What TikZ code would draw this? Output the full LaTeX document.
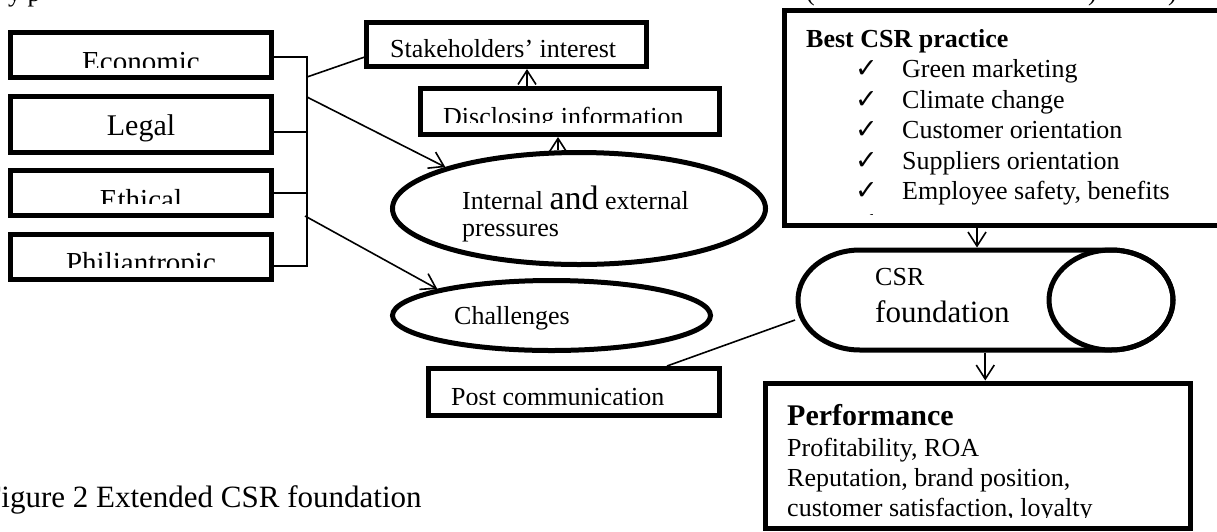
\documentclass[tikz,border=0pt]{standalone}
\usepackage{fontspec}
\setmainfont{Liberation Serif}
\newfontfamily\checkfont{DejaVu Sans}
\usetikzlibrary{shapes.geometric,arrows.meta}

\tikzset{
  box/.style={draw, rectangle, line width=5pt, inner sep=0pt},
  ell/.style={draw, ellipse, line width=5pt, inner sep=0pt},
  txt/.style={font=\fontsize{#1}{#1}\selectfont, inner sep=0pt, anchor=base west},
  btxt/.style={font=\fontsize{#1}{#1}\selectfont\bfseries, inner sep=0pt, anchor=base west},
  chk/.style={font=\checkfont\fontsize{27}{27}\selectfont, inner sep=0pt, anchor=base west},
  conn/.style={line width=1.6pt},
  arr/.style={conn, -{Straight Barb[length=14pt,width=18pt]}},
  thick shape/.style={line width=5pt}
}

\begin{document}
\begin{tikzpicture}[x=1pt,y=-1pt]
\useasboundingbox (0,0) rectangle (1217,531);
\clip (0,0) rectangle (1217,531);

% lines of surrounding text cut by the frame
\node[txt=26] (frag1) at (8,1) {y p};
\node[txt=26] (frag2) at (806,0) {(};
\node[txt=26] (frag3) at (1088,0) {)};
\node[txt=26] (frag4) at (1168,0) {)};

% four responsibility boxes
\node[box, minimum width=261pt, minimum height=45.5pt] (eco)   at (141,54.75) {};
\node[box, minimum width=261pt, minimum height=56pt]   (legal) at (141,124.5) {};
\node[box, minimum width=261pt, minimum height=45pt]   (eth)   at (141,193) {};
\node[box, minimum width=261pt, minimum height=45pt]   (phil)  at (141,257) {};
\begin{scope}
  \clip (13,30) rectangle (269,67);
  \node[txt=29, anchor=base] (ecot) at (141,71) {Economic};
\end{scope}
\node[txt=30, anchor=base] (legalt) at (141,135) {Legal};
\begin{scope}
  \clip (13,170) rectangle (269,203);
  \node[txt=29, anchor=base] (etht) at (141,209) {Ethical};
\end{scope}
\begin{scope}
  \clip (13,234) rectangle (269,267);
  \node[txt=29, anchor=base] (philt) at (141,272) {Philiantropic};
\end{scope}

% bracket joining the four boxes
\coordinate (bt) at (307,57);
\coordinate (bb) at (307,266);
\coordinate (b2) at (307,132);
\coordinate (b3) at (307,193);
\draw[conn] (eco.east |- bt) -- (bt) -- (bb) -- (phil.east |- bb);
\draw[conn] (legal.east |- b2) -- (b2);
\draw[conn] (eth.east |- b3) -- (b3);
\coordinate (j1) at (307,77);
\coordinate (j2) at (307,97);
\coordinate (j3) at (305,216);

% stakeholders and disclosure
\node[box, minimum width=280pt, minimum height=44.5pt]   (stake) at (506.5,44.25) {};
\begin{scope}
  \clip (369,25) rectangle (644,57);
  \node[txt=26] (staket) at (390,57) {Stakeholders’ interest};
\end{scope}
\node[box, minimum width=299.5pt, minimum height=46.5pt] (disc) at (569.75,111.25) {};
\begin{scope}
  \clip (423,91) rectangle (717,122);
  \node[txt=26] (disct) at (443,125) {Disclosing information};
\end{scope}

% pressures and challenges
\node[ell, minimum width=373pt, minimum height=112pt] (ipress) at (579,208.5) {};
\node[txt=26] (ipt1) at (462,209) {Internal {\fontsize{34}{34}\selectfont and} external};
\node[txt=26] (ipt2) at (462,236) {pressures};
\node[ell, minimum width=318pt, minimum height=70pt] (chal) at (551.5,315.5) {};
\node[txt=26] (chalt) at (454,324) {Challenges};

% post communication
\node[box, minimum width=291pt, minimum height=47pt] (post) at (574,392) {};
\begin{scope}
  \clip (431,371) rectangle (717,404.5);
  \node[txt=26] (postt) at (451,405) {Post communication};
\end{scope}

% best practice list
\node[box, minimum width=445.5pt, minimum height=215.5pt] (best) at (1007.25,117.75) {};
\node[btxt=26] (bestt) at (806,47) {Best CSR practice};
\foreach \t/\y [count=\i] in {Green marketing/77, Climate change/108,
    Customer orientation/138, Suppliers orientation/169,
    {Employee safety, benefits}/199} {
  \node[chk] (chk\i) at (855,\y) {✓};
  \node[txt=26] (item\i) at (902,\y) {\t};
}
\begin{scope}
  \clip (787,13) rectangle (1217,214);
  \node[chk] (chk6) at (855,231) {✓};
\end{scope}

% CSR foundation (horizontal drum)
\node[minimum width=375.5pt, minimum height=100pt, inner sep=0pt, outer sep=2.5pt] (csr) at (985.25,300) {};
\draw[thick shape] (860,250) -- (1111,250)
  arc[start angle=90, end angle=-90, x radius=62pt, y radius=50pt]
  -- (860,350)
  arc[start angle=270, end angle=90, x radius=62pt, y radius=50pt] -- cycle;
\draw[thick shape] (1111,300) ellipse [x radius=62pt, y radius=50pt];
\node[txt=26] (csrt1) at (875,285) {CSR};
\node[txt=31] (csrt2) at (875,322) {foundation};

% performance
\node[box, minimum width=424.5pt, minimum height=145.5pt] (perf) at (977.75,455.75) {};
\node[btxt=30] (perft) at (787,425) {Performance};
\node[txt=26] (perf1) at (787,456) {Profitability, ROA};
\node[txt=26] (perf2) at (787,486) {Reputation, brand position,};
\begin{scope}
  \clip (768,386) rectangle (1187,517);
  \node[txt=26] (perf3) at (787,516) {customer satisfaction, loyalty};
\end{scope}

% connectors
\draw[conn] (j1) -- ([yshift=-13pt]stake.west);
\draw[arr] (j2) -- (ipress.north west);
\draw[arr] (j3) -- (chal.north west);
\draw[arr] ([xshift=-42.75pt]disc.north) -- ([xshift=20.5pt]stake.south);
\draw[arr] ([xshift=-21pt]ipress.north) -- ([xshift=-11.75pt]disc.south);
\draw[conn] ([xshift=93pt]post.north) -- ([yshift=-20pt]csr.west);
\draw[arr] ([xshift=-30.25pt]best.south) -- ([xshift=-8.25pt]csr.north);
\draw[arr] (csr.south) -- (csr.south |- perf.north);

% caption
\node[txt=31] (cap) at (-16,507) {Figure 2 Extended CSR foundation};
\end{tikzpicture}
\end{document}
